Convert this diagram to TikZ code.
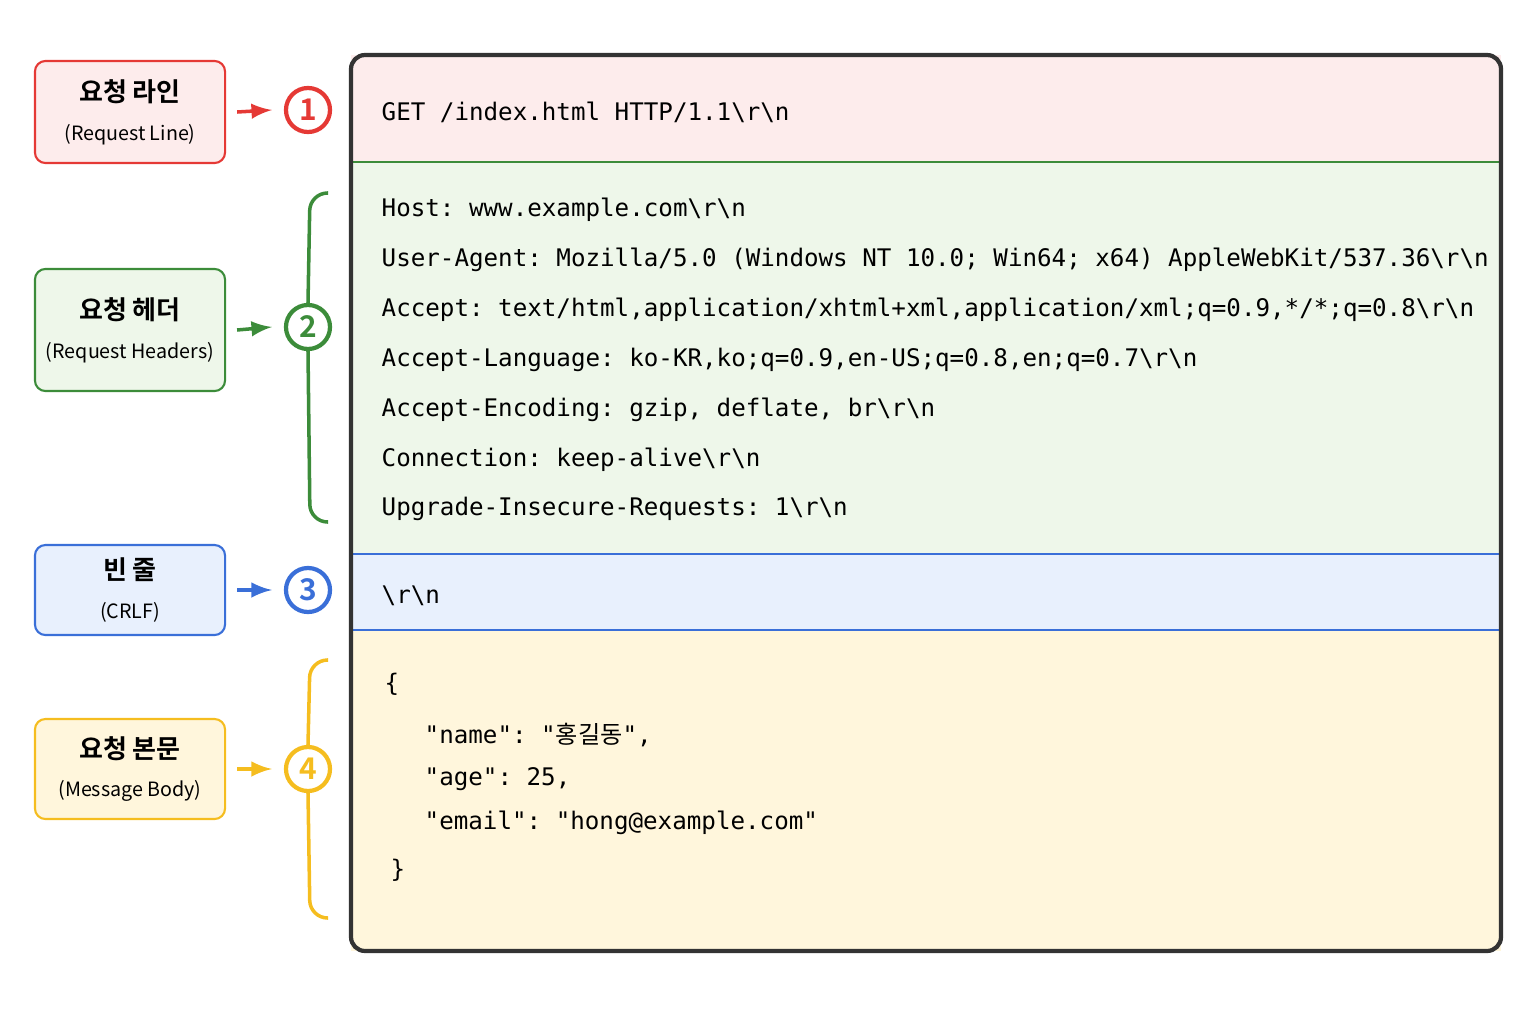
\documentclass[tikz,border=0pt]{standalone}
\usepackage{fontspec}
\setmonofont{DejaVu Sans Mono}
\newfontfamily\cjk{Noto Sans CJK KR}
\newfontfamily\cjkb{Noto Sans CJK KR Bold}
\usepackage{tikz}
\usetikzlibrary{positioning}
\definecolor{redline}{HTML}{E53935}\definecolor{redfill}{HTML}{FDECEC}
\definecolor{greenline}{HTML}{3C8C3A}\definecolor{greenfill}{HTML}{EEF7EA}
\definecolor{blueline}{HTML}{3A6FD8}\definecolor{bluefill}{HTML}{E8F0FD}
\definecolor{yellowline}{HTML}{F5BD1F}\definecolor{yellowfill}{HTML}{FFF6DC}
\begin{document}
\begin{tikzpicture}[x=0.01cm,y=-0.01cm,
  label box/.style={draw,rounded corners=3pt,line width=0.6pt,minimum width=1.9cm,align=center,inner sep=0pt},
  num/.style={circle,draw,line width=1.2pt,minimum size=0.44cm,inner sep=0pt,font=\cjkb\fontsize{8.5}{9}\selectfont},
  code/.style={anchor=west,inner sep=0pt,font=\ttfamily\fontsize{6.88}{7}\selectfont},
  pointer/.style={-latex,line width=1pt}]
  \useasboundingbox (0,0) rectangle (1536,1024);

  % sections of the message
  \fill[redfill] (351,55) rectangle (1501,162);
  \fill[greenfill] (351,162) rectangle (1501,554);
  \fill[bluefill] (351,554) rectangle (1501,630);
  \fill[yellowfill] (351,630) rectangle (1501,951);
  \draw[greenline,line width=0.8pt] (351,162) -- (1501,162);
  \draw[blueline,line width=0.8pt] (351,554) -- (1501,554) (351,630) -- (1501,630);
  \draw[black!80,line width=1.2pt,rounded corners=4pt] (351,55) rectangle (1501,951);

  % labels on the left
  \node[label box,draw=redline,fill=redfill,minimum height=1.02cm] (reqline) at (130,112)
    {{\cjkb\fontsize{7.4}{8}\selectfont 요청 라인}\\[-1pt]{\cjk\fontsize{5.6}{6}\selectfont (Request Line)}};
  \node[label box,draw=greenline,fill=greenfill,minimum height=1.22cm] (headers) at (130,330)
    {{\cjkb\fontsize{7.4}{8}\selectfont 요청 헤더}\\[-1pt]{\cjk\fontsize{5.6}{6}\selectfont (Request Headers)}};
  \node[label box,draw=blueline,fill=bluefill,minimum height=0.9cm] (crlf) at (130,590)
    {{\cjkb\fontsize{7.4}{8}\selectfont 빈 줄}\\[-1pt]{\cjk\fontsize{5.6}{6}\selectfont (CRLF)}};
  \node[label box,draw=yellowline,fill=yellowfill,minimum height=1.0cm] (body) at (130,769)
    {{\cjkb\fontsize{7.4}{8}\selectfont 요청 본문}\\[-1pt]{\cjk\fontsize{5.6}{6}\selectfont (Message Body)}};

  % numbered markers
  \node[num,draw=redline,text=redline] (n1) at (308,110) {1};
  \node[num,draw=greenline,text=greenline] (n2) at (308,327) {2};
  \node[num,draw=blueline,text=blueline] (n3) at (308,590) {3};
  \node[num,draw=yellowline,text=yellowline] (n4) at (308,769) {4};
  \draw[pointer,redline] ([xshift=0.11cm]reqline.east) -- ([xshift=-0.12cm]n1.west);
  \draw[pointer,greenline] ([xshift=0.11cm]headers.east) -- ([xshift=-0.12cm]n2.west);
  \draw[pointer,blueline] ([xshift=0.11cm]crlf.east) -- ([xshift=-0.12cm]n3.west);
  \draw[pointer,yellowline] ([xshift=0.11cm]body.east) -- ([xshift=-0.12cm]n4.west);

  % braces
  \draw[greenline,line width=1pt,rounded corners=5pt] (n2.north) -- (310,193) -- (328,193);
  \draw[greenline,line width=1pt,rounded corners=5pt] (n2.south) -- (310,522) -- (328,522);
  \draw[yellowline,line width=1pt,rounded corners=5pt] (n4.north) -- (310,660) -- (328,660);
  \draw[yellowline,line width=1pt,rounded corners=5pt] (n4.south) -- (310,918) -- (328,918);

  % message text
  \node[code] (get) at (381,112) {GET /index.html HTTP/1.1\textbackslash r\textbackslash n};
  \node[code] (h1) at (381,210) {Host: www.example.com\textbackslash r\textbackslash n};
  \node[code] (h2) at (381,260) {User-Agent: Mozilla/5.0 (Windows NT 10.0; Win64; x64) AppleWebKit/537.36\textbackslash r\textbackslash n};
  \node[code] (h3) at (381,310) {Accept: text/html,application/xhtml+xml,application/xml;q=0.9,*/*;q=0.8\textbackslash r\textbackslash n};
  \node[code] (h4) at (381,360) {Accept-Language: ko-KR,ko;q=0.9,en-US;q=0.8,en;q=0.7\textbackslash r\textbackslash n};
  \node[code] (h5) at (381,410) {Accept-Encoding: gzip, deflate, br\textbackslash r\textbackslash n};
  \node[code] (h6) at (381,460) {Connection: keep-alive\textbackslash r\textbackslash n};
  \node[code] (h7) at (381,509) {Upgrade-Insecure-Requests: 1\textbackslash r\textbackslash n};
  \node[code] (blank) at (381,596) {\textbackslash r\textbackslash n};
  \node[code] (b1) at (384,684) {\{};
  \node[code] (b2) at (424,735) {"name": "{\cjk 홍길동}",};
  \node[code] (b3) at (424,779) {"age": 25,};
  \node[code] (b4) at (424,823) {"email": "hong@example.com"};
  \node[code] (b5) at (390,870) {\}};
\end{tikzpicture}
\end{document}
